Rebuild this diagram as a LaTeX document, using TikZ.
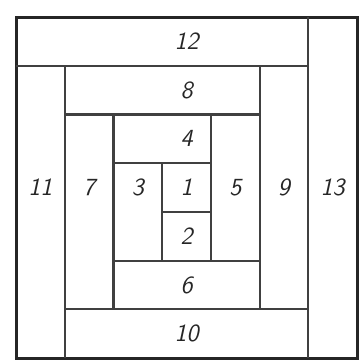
\documentclass[tikz,border=0pt]{standalone}
\usepackage{xcolor}
\usepackage{tikz}

\begin{document}
\begin{tikzpicture}[line width=1.3pt]
  \useasboundingbox (-0.33,-0.06) rectangle (7.06,7.35);
  \draw[black!85,line width=1.8pt] (0,0) rectangle (7,7);
  % strips, from outside to inside
  \draw[black!75] (6,0)--(6,7) (0,6)--(6,6);
  \draw[black!75] (1,0)--(1,6) (1,1)--(6,1);
  \draw[black!75] (5,1)--(5,6) (1,5)--(5,5);
  \draw[black!75] (2,1)--(2,5) (2,2)--(5,2);
  \draw[black!75] (4,2)--(4,5) (2,4)--(4,4);
  \draw[black!75] (3,2)--(3,4) (3,3)--(4,3);
  \foreach \n/\x/\y in {1/3/3,2/3/2,3/2/3,4/3/4,5/4/3,6/3/1,7/1/3,
                        8/3/5,9/5/3,10/3/0,11/0/3,12/3/6,13/6/3}{
    \node[black!85,font=\Large\sffamily\itshape] (lab\n) at (\x+0.5,\y+0.5) {\n};
  }
\end{tikzpicture}
\end{document}
